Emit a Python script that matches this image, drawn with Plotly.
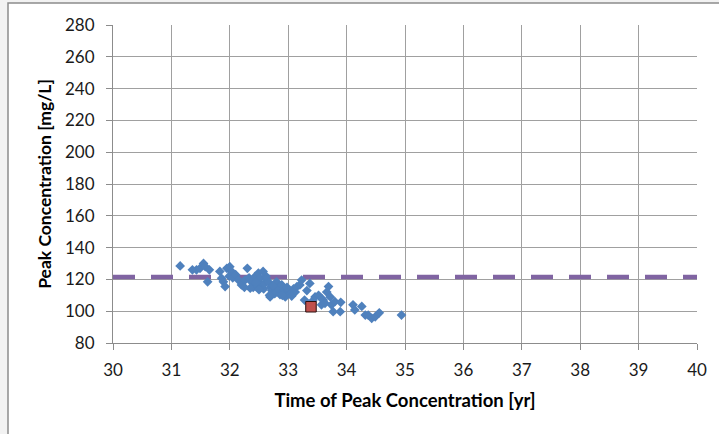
import plotly.graph_objects as go

# Scatter data: time of peak concentration [yr] and peak concentration [mg/L]
time_yr = [31.15, 31.36, 31.43, 31.49, 31.55, 31.58, 31.65, 31.62, 31.83, 31.86,
           31.89, 31.92, 31.95, 32.00, 32.03, 31.99, 32.05, 32.10, 32.15, 32.20,
           32.26, 32.30, 32.33, 32.37, 32.40, 32.43, 32.46, 32.49, 32.52, 32.55,
           32.58, 32.60, 32.63, 32.66, 32.69, 32.70, 32.72, 32.75, 32.77, 32.80,
           32.83, 32.86, 32.89, 32.92, 32.95, 33.00, 33.04, 33.09, 33.12, 33.15,
           33.20, 33.23, 33.28, 33.32, 33.37, 33.42, 33.46, 33.52, 33.57, 33.57,
           33.60, 33.63, 33.66, 33.69, 33.72, 33.74, 33.77, 33.80, 33.89, 33.90,
           34.11, 34.14, 34.26, 34.32, 34.37, 34.43, 34.49, 34.56, 34.94, 32.35,
           32.45, 32.62, 32.68, 32.74, 32.90, 32.98, 33.06, 32.25, 32.50, 32.57]
conc_mgL = [128.5, 126.0, 126.0, 127.0, 130.0, 128.0, 126.0, 118.5, 125.0, 120.7,
            118.5, 115.5, 127.0, 128.0, 125.0, 122.0, 121.0, 123.0, 119.5, 116.5,
            119.6, 127.0, 121.0, 118.5, 115.0, 121.7, 115.5, 124.0, 120.7, 116.5,
            114.0, 117.5, 120.0, 118.5, 109.0, 115.0, 113.0, 111.5, 111.0, 118.5,
            114.0, 110.5, 116.5, 112.0, 109.0, 113.0, 111.0, 114.0, 112.0, 115.5,
            116.5, 119.6, 107.0, 113.0, 117.5, 106.5, 109.0, 110.0, 108.0, 104.0,
            107.0, 105.0, 112.0, 115.5, 109.0, 104.0, 99.7, 106.0, 99.7, 105.6,
            104.0, 100.8, 103.0, 97.6, 97.6, 95.5, 96.5, 99.0, 97.6, 114.5,
            118.0, 122.0, 110.0, 116.0, 110.0, 115.0, 109.5, 115.0, 113.5, 125.0]

# Highlighted point
mark_time = [33.39]
mark_conc = [102.8]

# Reference level (dashed line)
ref_level = 121.5
x_range = [30, 40]
y_range = [80, 280]

fig = go.Figure()

fig.add_trace(go.Scatter(
    x=x_range, y=[ref_level, ref_level], mode="lines",
    line=dict(color="#8064a2", width=4.5, dash="22px,16px"),
    hoverinfo="skip", showlegend=False))

fig.add_trace(go.Scatter(
    x=time_yr, y=conc_mgL, mode="markers",
    marker=dict(symbol="diamond", size=7.5, color="#4f81bd", line=dict(width=0)),
    showlegend=False))

fig.add_trace(go.Scatter(
    x=mark_time, y=mark_conc, mode="markers",
    marker=dict(symbol="square", size=10.5, color="#c0504d",
                line=dict(color="#2a1010", width=1)),
    showlegend=False))

axis_font = dict(family="Lato, Liberation Sans, sans-serif", size=17, color="#1a1a1a")
xtitle_font = dict(family="Lato, Liberation Sans, sans-serif", size=18.5, color="#000000")
ytitle_font = dict(family="Lato, Liberation Sans, sans-serif", size=17.5, color="#000000")

fig.update_xaxes(
    range=x_range, dtick=1, tick0=30,
    showgrid=True, gridcolor="#a0a0a0", gridwidth=1,
    showline=True, linecolor="#8c8c8c", linewidth=1, mirror=False,
    ticks="outside", ticklen=6, tickcolor="#8c8c8c",
    tickfont=axis_font, zeroline=False, ticklabelstandoff=6,
    title=dict(text="<b>Time of Peak Concentration [yr]</b>", font=xtitle_font, standoff=14),
)
fig.update_yaxes(
    range=y_range, dtick=20, tick0=80,
    showgrid=True, gridcolor="#a0a0a0", gridwidth=1,
    showline=True, linecolor="#8c8c8c", linewidth=1,
    ticks="outside", ticklen=6, tickcolor="#8c8c8c",
    tickfont=axis_font, zeroline=False, ticklabelstandoff=8,
    title=dict(text="<b>Peak Concentration [mg/L]</b>", font=ytitle_font, standoff=8),
)

# Frame: light grey page with a white chart area bordered in grey
fig.add_shape(type="rect", xref="paper", yref="paper",
              x0=(8 - 113) / 584, x1=1.2, y0=-0.5, y1=1 + 22 / 318,
              fillcolor="white", line=dict(color="#8c8c8c", width=1.5), layer="below")

fig.update_layout(
    width=719, height=434,
    margin=dict(l=113, r=22, t=25, b=91),
    paper_bgcolor="#f2f2f2", plot_bgcolor="white",
    showlegend=False,
)

fig.write_html("out.html")
